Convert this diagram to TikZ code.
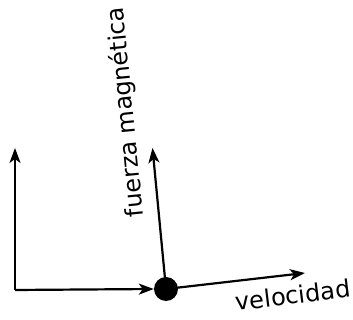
\documentclass[tikz,border=0pt]{standalone}
\usepackage{fontspec}
\setmainfont{DejaVu Sans}
\usetikzlibrary{arrows.meta}
\begin{document}
\begin{tikzpicture}[x=1pt,y=1pt,
  vec/.style={line width=2.2pt,-{Stealth[length=15pt,width=11pt,inset=4pt]}},
  lbl/.style={font=\fontsize{24}{24}\selectfont,inner sep=0pt}]
\useasboundingbox (0,0) rectangle (353,320);
\coordinate (o) at (15,30);
\coordinate (up) at (15,172);
\node[circle,fill=black,minimum size=24pt,inner sep=0pt] (q) at (166,31) {};
\coordinate (ftip) at (152.5,172);
\coordinate (vtip) at (305,47);
\draw[vec] (o) -- (up);
\draw[vec] (o) -- (q.west);
\draw[vec] (q.center) -- (ftip);
\draw[vec] (q.center) -- (vtip);
\node[lbl,rotate=95.6] (fl) at (126,208) {fuerza magnética};
\node[lbl,rotate=7] (vl) at (293,25) {velocidad};
\end{tikzpicture}
\end{document}
